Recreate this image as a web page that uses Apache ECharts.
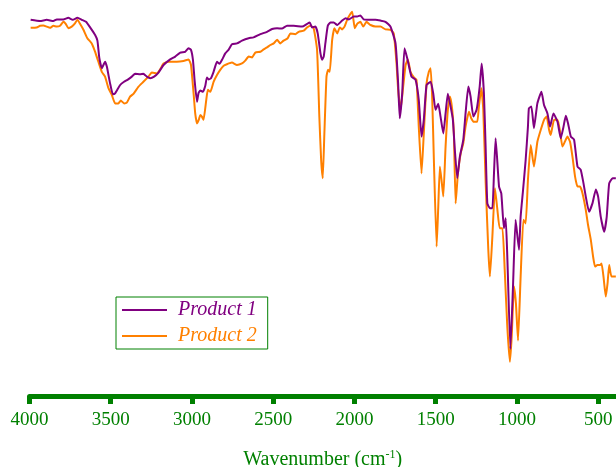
<!DOCTYPE html>
<html>
<head>
<meta charset="utf-8">
<script src="https://cdn.jsdelivr.net/npm/echarts@6/dist/echarts.min.js"></script>
<style>html,body{margin:0;padding:0;background:#fff}#c{width:616px;height:467px}</style>
</head>
<body>
<div id="c"></div>
<script>
// Tick labels (wavenumber, cm-1)
var ticks = [4000, 3500, 3000, 2500, 2000, 1500, 1000, 500];
var seriesNames = ['Product 1', 'Product 2'];

// Product 1: wavenumber (cm-1) and transmittance (a.u.)
var wn1 = [3993,3935,3894,3853,3832,3792,3761,3734,3705,3678,
3652,3627,3596,3582,3570,3555,3545,3535,3524,3504,
3487,3473,3442,3418,3397,3370,3350,3319,3299,3278,
3257,3233,3206,3175,3134,3103,3072,3042,3021,3006,
2994,2984,2969,2960,2949,2932,2918,2908,2898,2883,
2867,2846,2830,2815,2795,2775,2754,2723,2692,2651,
2621,2579,2538,2507,2476,2446,2415,2374,2322,2291,
2275,2261,2240,2226,2209,2199,2189,2179,2164,2148,
2127,2106,2076,2055,2035,2004,1983,1963,1943,1901,
1870,1840,1809,1778,1747,1731,1721,1706,1692,1675,
1649,1624,1604,1587,1573,1556,1531,1515,1501,1484,
1470,1453,1439,1425,1408,1394,1382,1367,1351,1330,
1316,1299,1285,1268,1248,1229,1217,1203,1192,1182,
1166,1151,1141,1131,1110,1096,1080,1069,1059,1040,
1024,1008,987,977,962,946,932,926,911,895,
874,849,833,812,796,775,750,730,713,699,
685,668,648,627,607,590,576,556,535,514,
500,484,463,447,432,411,391];
var t1 = [94.3,94.0,94.3,94.0,94.4,94.4,94.8,94.3,94.8,94.3,
93.8,92.4,90.5,89.1,84.7,82.2,83.0,83.8,82.6,78.4,
75.7,75.9,78.0,78.8,79.3,80.1,80.8,80.7,80.8,80.1,
79.7,80.1,81.1,83.0,84.4,85.1,86.1,86.3,87.2,86.8,
84.3,79.3,73.8,75.9,76.6,76.3,77.8,79.9,79.4,79.7,
81.3,83.8,83.3,84.3,85.9,86.8,88.2,88.4,89.1,89.7,
89.9,90.7,91.3,92.0,92.2,92.1,92.8,92.8,92.6,93.3,
93.6,92.4,92.6,90.9,85.9,84.3,85.1,88.4,92.8,93.6,
93.6,93.0,94.1,94.7,94.4,95.1,95.1,95.4,94.4,94.3,
94.3,94.1,93.8,92.6,88.4,78.4,69.7,75.9,87.2,84.7,
80.1,79.3,74.3,65.1,69.3,78.0,78.8,75.9,71.8,73.3,
70.1,65.9,70.9,75.8,72.6,69.3,61.8,54.7,60.1,64.3,
70.9,77.6,75.1,70.1,71.8,77.6,83.4,75.9,61.8,48.4,
47.2,47.2,55.9,64.7,52.6,50.9,42.2,44.7,35.1,12.0,
27.6,44.3,36.8,45.1,51.8,59.3,67.6,72.2,72.6,67.2,
73.4,76.3,73.0,70.9,67.6,70.9,68.8,64.7,67.6,70.3,
68.4,65.1,64.3,57.6,56.8,53.4,50.1,46.3,48.4,51.9,
50.1,45.1,41.3,45.1,53.4,54.7,54.7];

// Product 2
var wn2 = [3993,3956,3935,3915,3894,3874,3853,3832,3812,3792,
3777,3761,3740,3720,3705,3689,3668,3644,3617,3596,
3576,3555,3535,3514,3493,3473,3453,3438,3418,3401,
3381,3360,3329,3299,3268,3247,3216,3196,3175,3144,
3093,3052,3021,3006,2990,2980,2969,2957,2949,2939,
2929,2912,2902,2887,2867,2846,2826,2805,2785,2754,
2723,2692,2672,2651,2630,2610,2579,2559,2538,2518,
2497,2476,2456,2436,2411,2394,2364,2343,2312,2291,
2271,2251,2230,2216,2205,2195,2185,2172,2162,2152,
2137,2123,2106,2090,2076,2061,2045,2029,2014,1998,
1983,1963,1946,1926,1901,1870,1840,1809,1778,1758,
1741,1731,1716,1700,1685,1671,1655,1634,1618,1604,
1587,1573,1556,1542,1531,1521,1511,1494,1484,1474,
1464,1453,1439,1425,1412,1398,1388,1377,1363,1346,
1330,1316,1295,1281,1265,1244,1234,1219,1207,1192,
1176,1166,1151,1135,1120,1106,1089,1075,1059,1043,
1032,1018,1006,993,977,960,946,932,915,895,
874,853,833,817,802,792,771,750,734,720,
705,689,673,658,642,627,611,596,576,562,
545,531,519,504,488,479,467,453,442,432,
418,391];
var t2 = [92.3,92.4,92.8,92.9,92.6,92.3,92.8,92.6,92.8,93.8,
93.3,92.2,92.6,93.4,94.3,93.3,91.8,89.7,88.4,86.3,
83.8,81.3,80.1,77.2,75.5,73.4,73.4,74.1,73.4,73.6,
75.1,75.8,77.6,78.8,80.1,81.1,80.9,81.9,83.4,83.8,
83.8,84.0,84.4,83.0,75.9,70.9,68.4,69.4,70.5,70.1,
69.3,74.3,76.8,76.3,78.8,80.5,81.8,82.8,83.2,83.6,
83.0,83.4,84.1,85.1,84.9,86.1,86.3,86.9,87.4,88.0,
88.4,89.3,88.4,89.1,89.7,90.9,90.7,91.3,91.6,92.4,
92.8,92.2,86.8,70.1,59.3,54.7,65.9,80.1,81.8,81.3,
89.3,92.2,90.9,92.4,91.9,92.6,94.3,95.5,96.3,92.2,
93.3,93.8,92.6,93.8,93.0,92.6,92.6,91.9,91.8,90.9,
83.4,76.8,71.8,77.6,83.0,84.4,81.3,79.9,79.3,67.6,
55.9,65.9,78.4,81.3,82.2,74.3,59.3,37.6,47.6,57.6,
54.3,50.1,62.6,71.8,75.1,71.8,65.9,48.4,55.9,60.9,
63.4,67.6,71.3,69.7,68.8,68.8,72.6,77.2,71.8,53.4,
36.8,30.1,40.1,52.2,46.8,42.2,42.2,31.8,17.6,8.8,
15.1,27.6,23.4,14.1,30.1,44.3,43.4,54.3,63.0,57.6,
63.8,66.8,69.3,70.1,66.8,65.5,69.3,69.3,66.3,62.6,
63.8,65.1,63.8,60.1,55.1,52.6,52.6,50.9,46.8,43.0,
39.3,35.1,32.6,33.0,33.0,33.4,30.1,25.1,28.4,33.0,
30.1,30.1];

function pairs(xs, ys) { return xs.map(function (x, i) { return [x, ys[i]]; }); }

var GREEN = '#008000', PURPLE = '#800080', ORANGE = '#FF8000';
var FONT = 'Liberation Serif';

var chart = echarts.init(document.getElementById('c'), null, { renderer: 'canvas' });
chart.setOption({
  animation: false,
  backgroundColor: '#ffffff',
  grid: { left: 29.5, right: 0, top: 1, bottom: 71, containLabel: false, outerBoundsMode: 'none' },
  legend: {
    orient: 'vertical',
    left: 116, top: 297,
    padding: [3, 11, 3, 6],
    itemGap: 6,
    itemWidth: 45, itemHeight: 2,
    icon: 'rect',
    borderColor: GREEN, borderWidth: 1,
    textStyle: { fontFamily: FONT, fontSize: 20, fontStyle: 'italic', lineHeight: 20, padding: [0, 0, 0, 6] },
    data: [
      { name: seriesNames[0], textStyle: { color: PURPLE } },
      { name: seriesNames[1], textStyle: { color: ORANGE } }
    ]
  },
  xAxis: {
    type: 'value', inverse: true, min: 390, max: 4000,
    name: '{a|Wavenumber (cm}{s|-1}{a|)}',
    nameLocation: 'middle', nameGap: 53,
    nameTextStyle: {
      color: GREEN, fontFamily: FONT, fontSize: 20,
      rich: {
        a: { color: GREEN, fontFamily: FONT, fontSize: 20 },
        s: { color: GREEN, fontFamily: FONT, fontSize: 12, padding: [0, 0, 10, 0] }
      }
    },
    axisLine: { show: true, onZero: false, lineStyle: { color: GREEN, width: 5 } },
    axisTick: { show: true, customValues: ticks, length: 8, lineStyle: { color: GREEN, width: 5 } },
    axisLabel: { customValues: ticks, color: GREEN, fontFamily: FONT, fontSize: 19, margin: 15,
      formatter: function (v) { return String(v); } },
    splitLine: { show: false }
  },
  yAxis: { type: 'value', min: 0.25, max: 99, show: false, splitLine: { show: false } },
  series: [
    { name: seriesNames[1], type: 'line', data: pairs(wn2, t2), showSymbol: false, smooth: 0.15,
      lineStyle: { color: ORANGE, width: 2 }, itemStyle: { color: ORANGE } },
    { name: seriesNames[0], type: 'line', data: pairs(wn1, t1), showSymbol: false, smooth: 0.15,
      lineStyle: { color: PURPLE, width: 2 }, itemStyle: { color: PURPLE } }
  ]
});
</script>
</body>
</html>
